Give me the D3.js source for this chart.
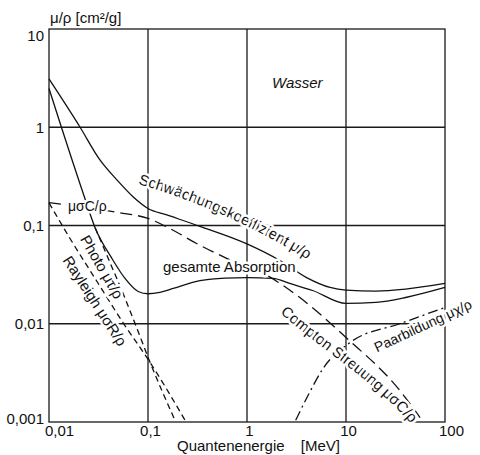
<!DOCTYPE html>
<html>
<head>
<meta charset="utf-8">
<script src="https://d3js.org/d3.v7.min.js"></script>
<style>
    body { margin: 0; background: white; }
    svg { display: block; font-family: "Liberation Sans", Arial, Helvetica, sans-serif; }
    .grid line, .frame { stroke: #1a1a1a; stroke-width: 1.3px; fill: none; }
    .curve { fill: none; stroke: #111; stroke-width: 1.3px; }
    .tick text { font-family: "Liberation Sans", Arial, sans-serif; font-size: 15px; fill: #111; }
    .label { font-size: 15px; fill: #111; stroke: white; stroke-width: 5px; paint-order: stroke; stroke-linejoin: round; }
    .title { font-size: 15px; fill: #111; }
</style>
</head>
<body>
<script>
    // values (water), energy in MeV, mu/rho in cm2/g
    const schwEnergy = [0.01, 0.0206, 0.0327, 0.0487, 0.071, 0.1, 0.155, 0.335, 1, 2.15, 4, 6.9, 10, 20, 40, 100];
    const schwValue  = [3.1, 1.0, 0.465, 0.29, 0.195, 0.149, 0.128, 0.098, 0.065, 0.044, 0.0295, 0.0234, 0.022, 0.0215, 0.0225, 0.0257];

    const absEnergy = [0.01, 0.022, 0.0292, 0.0433, 0.0586, 0.0795, 0.1, 0.132, 0.18, 0.335, 0.6, 1.0, 1.83, 2.7, 4.6, 10, 20, 40, 100];
    const absValue  = [2.48, 0.217, 0.095, 0.046, 0.0289, 0.0213, 0.0202, 0.0209, 0.0229, 0.0275, 0.0292, 0.0295, 0.029, 0.0257, 0.0218, 0.0161, 0.0165, 0.0185, 0.0234];

    const photoEnergy = [0.0292, 0.0413, 0.0558, 0.0775, 0.105, 0.1875];
    const photoValue  = [0.095, 0.042, 0.0205, 0.0089, 0.00404, 0.00104];

    const rayEnergy = [0.01, 0.0163, 0.0292, 0.0558, 0.105, 0.237];
    const rayValue  = [0.17, 0.0738, 0.0289, 0.0103, 0.00404, 0.00104];

    const comptonEnergy = [0.01, 0.05, 0.1, 0.167, 0.31, 0.63, 1.6, 3.2, 10, 35, 56];
    const comptonValue  = [0.171, 0.1355, 0.118, 0.093, 0.0656, 0.0461, 0.031, 0.0194, 0.00726, 0.00209, 0.00111];

    const pairEnergy = [3.1, 4.13, 5.86, 11, 35, 100];
    const pairValue  = [0.00104, 0.00186, 0.0035, 0.00645, 0.01, 0.01465];

    const xTicks = [0.01, 0.1, 1, 10, 100];
    const xTickLabels = ['0,01', '0,1', '1', '10', '100'];
    const yTicks = [0.001, 0.01, 0.1, 1, 10];
    const yTickLabels = ['0,001', '0,01', '0,1', '1', '10'];

    const width = 480;
    const height = 455;

    const svg = d3.select('body').append('svg')
        .attr('width', width)
        .attr('height', height);

    const x = d3.scaleLog().domain([0.01, 100]).range([49, 445]);
    const y = d3.scaleLog().domain([0.001, 10]).range([422, 29]);

    // grid
    const grid = svg.append('g').attr('class', 'grid');
    grid.selectAll('line.v')
        .data(xTicks.slice(1, -1))
        .join('line')
        .attr('class', 'v')
        .attr('x1', d => x(d)).attr('x2', d => x(d))
        .attr('y1', y(10)).attr('y2', y(0.001));
    grid.selectAll('line.h')
        .data(yTicks.slice(1, -1))
        .join('line')
        .attr('class', 'h')
        .attr('x1', x(0.01)).attr('x2', x(100))
        .attr('y1', d => y(d)).attr('y2', d => y(d));

    svg.append('rect')
        .attr('class', 'frame')
        .attr('x', x(0.01))
        .attr('y', y(10))
        .attr('width', x(100) - x(0.01))
        .attr('height', y(0.001) - y(10));

    // curves
    const line = d3.line()
        .x(d => x(d[0]))
        .y(d => y(d[1]))
        .curve(d3.curveMonotoneX);

    const curves = [
        { e: schwEnergy, v: schwValue, dash: null },
        { e: absEnergy, v: absValue, dash: null },
        { e: photoEnergy, v: photoValue, dash: '6,4' },
        { e: rayEnergy, v: rayValue, dash: '6,4' },
        { e: comptonEnergy, v: comptonValue, dash: '12,6' },
        { e: pairEnergy, v: pairValue, dash: '10,4,2,4' }
    ];

    svg.append('g')
        .selectAll('path')
        .data(curves)
        .join('path')
        .attr('class', 'curve')
        .attr('stroke-dasharray', d => d.dash)
        .attr('d', d => line(d3.zip(d.e, d.v)));

    // axes (labels only)
    const xAxis = svg.append('g')
        .attr('transform', `translate(0,${y(0.001)})`)
        .call(d3.axisBottom(x).tickValues(xTicks)
            .tickFormat((d, i) => xTickLabels[i]).tickSize(0).tickPadding(3));
    xAxis.select('.domain').remove();
    xAxis.selectAll('.tick text')
        .attr('dx', (d, i) => i === 0 ? 10 : (i === xTicks.length - 1 ? 6 : 2));

    const yAxis = svg.append('g')
        .attr('transform', `translate(${x(0.01)},0)`)
        .call(d3.axisLeft(y).tickValues(yTicks)
            .tickFormat((d, i) => yTickLabels[i]).tickSize(0).tickPadding(5));
    yAxis.select('.domain').remove();
    yAxis.selectAll('.tick text')
        .attr('dy', (d, i) => i === yTicks.length - 1 ? '0.78em' : (i === 0 ? '0.12em' : '0.32em'));

    svg.append('text').attr('class', 'title')
        .attr('x', 50).attr('y', 23)
        .text('μ/ρ [cm²/g]');

    svg.append('text').attr('class', 'title')
        .attr('x', 177).attr('y', 451)
        .text('Quantenenergie');
    svg.append('text').attr('class', 'title')
        .attr('x', 340).attr('y', 451)
        .attr('text-anchor', 'end')
        .text('[MeV]');

    svg.append('text').attr('class', 'title')
        .attr('x', 272).attr('y', 88)
        .style('font-style', 'italic')
        .text('Wasser');

    // curve labels
    const defs = svg.append('defs');
    defs.append('path').attr('id', 'schwPath').attr('d', 'M138,184 Q229,210 318,266');
    defs.append('path').attr('id', 'comptonPath').attr('d', 'M280,313 C330,356 380,385 418,432');

    svg.append('text').attr('class', 'label')
        .append('textPath').attr('href', '#schwPath')
        .text('Schwächungskoeffizient μ/ρ');

    svg.append('text').attr('class', 'label')
        .append('textPath').attr('href', '#comptonPath')
        .text('Compton Streuung μσC/ρ');

    svg.append('text').attr('class', 'label')
        .attr('x', 163).attr('y', 272)
        .text('gesamte Absorption');

    svg.append('text').attr('class', 'label')
        .attr('x', 68).attr('y', 211)
        .style('font-size', '14px')
        .text('μσC/ρ');

    const rotated = [
        { text: 'Photo μτ/ρ', cx: 102, cy: 267, angle: 60, anchor: 'middle', size: 15 },
        { text: 'Rayleigh μσR/ρ', cx: 95, cy: 301, angle: 57, anchor: 'middle', size: 15 },
        { text: 'Paarbildung μχ/ρ', cx: 375, cy: 348, angle: -25, anchor: 'start', size: 14 }
    ];

    svg.append('g')
        .selectAll('text')
        .data(rotated)
        .join('text')
        .attr('class', 'label')
        .style('font-size', d => d.size + 'px')
        .attr('transform', d => `translate(${d.cx},${d.cy}) rotate(${d.angle})`)
        .attr('text-anchor', d => d.anchor)
        .attr('dy', '0.35em')
        .text(d => d.text);
</script>
</body>
</html>
